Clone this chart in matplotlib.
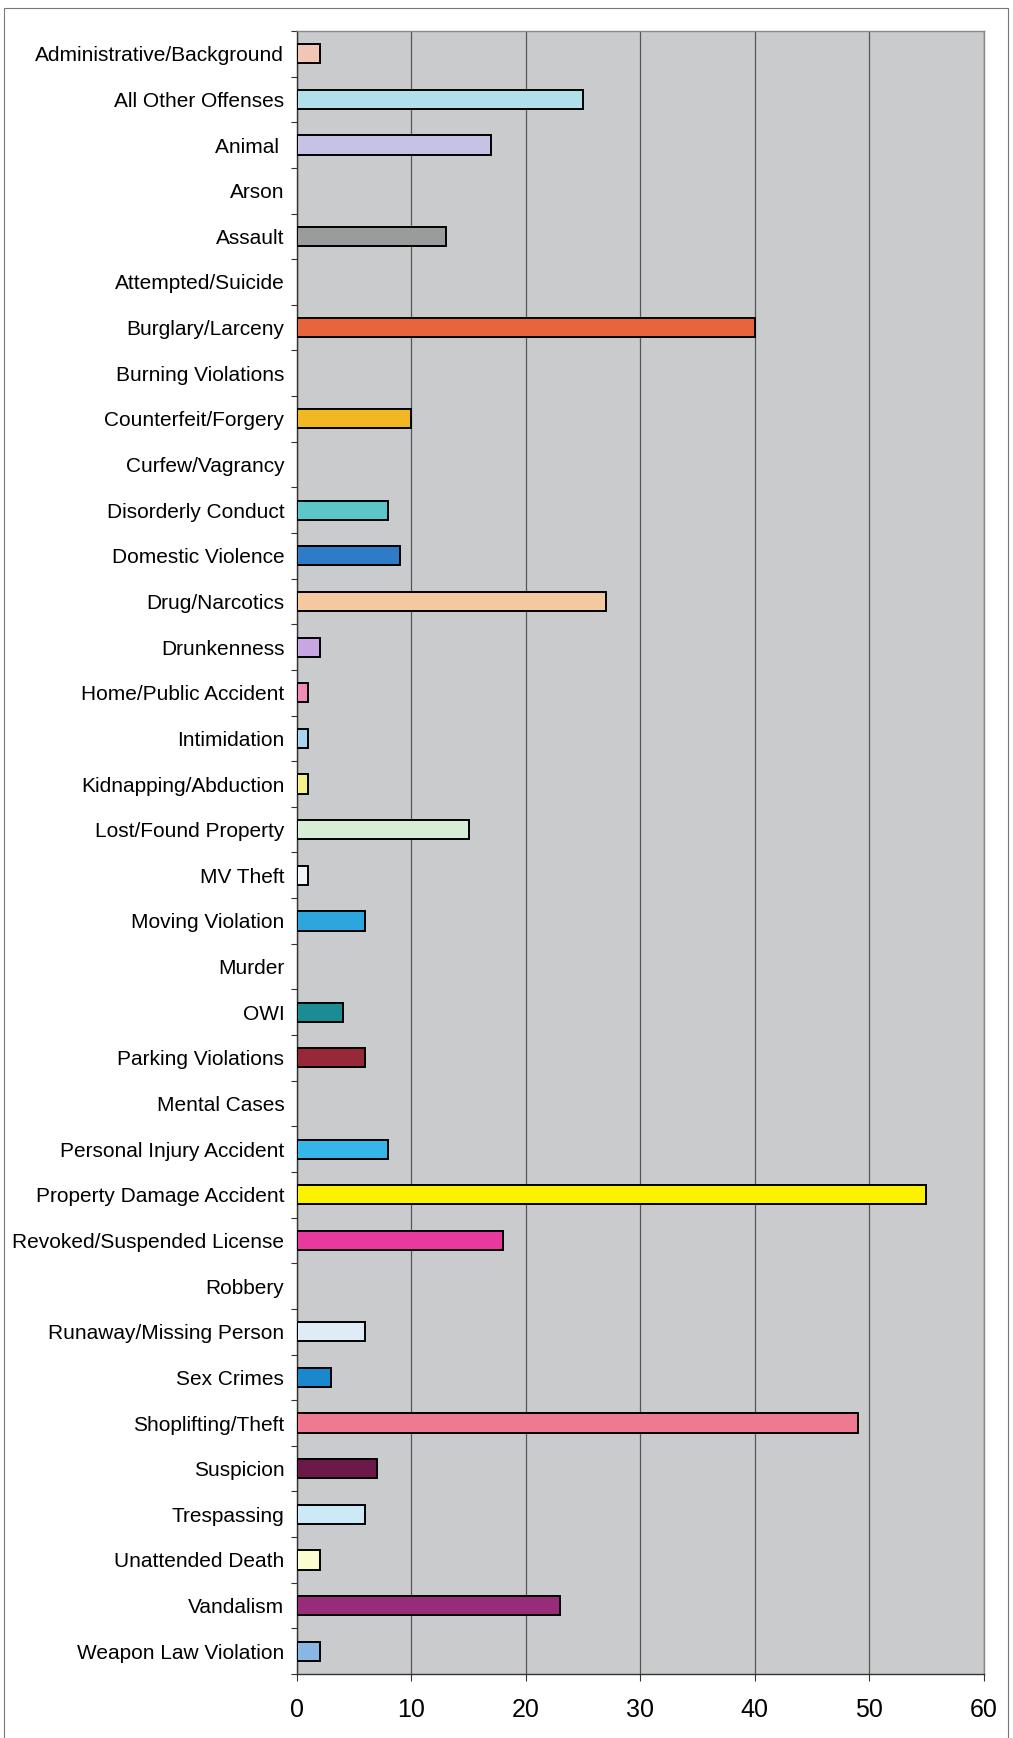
import numpy as np
from matplotlib import pyplot as plt
from matplotlib.patches import Rectangle

plt.rcParams['font.family'] = ['Liberation Sans', 'DejaVu Sans']

categories = [
    "Administrative/Background", "All Other Offenses", "Animal ", "Arson",
    "Assault", "Attempted/Suicide", "Burglary/Larceny", "Burning Violations",
    "Counterfeit/Forgery", "Curfew/Vagrancy", "Disorderly Conduct",
    "Domestic Violence", "Drug/Narcotics", "Drunkenness",
    "Home/Public Accident", "Intimidation", "Kidnapping/Abduction",
    "Lost/Found Property", "MV Theft", "Moving Violation", "Murder", "OWI",
    "Parking Violations", "Mental Cases", "Personal Injury Accident",
    "Property Damage Accident", "Revoked/Suspended License", "Robbery",
    "Runaway/Missing Person", "Sex Crimes", "Shoplifting/Theft", "Suspicion",
    "Trespassing", "Unattended Death", "Vandalism", "Weapon Law Violation",
]

counts = [2, 25, 17, 0, 13, 0, 40, 0, 10, 0, 8, 9, 27, 2, 1, 1, 1, 15, 1, 6,
          0, 4, 6, 0, 8, 55, 18, 0, 6, 3, 49, 7, 6, 2, 23, 2]

bar_colors = [
    "#f2c6b4", "#b2e0ea", "#c6c2e6", "#cacbcc", "#9a9c9c", "#cacbcc",
    "#e8643c", "#cacbcc", "#f2b824", "#cacbcc", "#5cc6ca", "#2e7cc8",
    "#f5c9a0", "#c8a6e2", "#f08ab6", "#a8d4f0", "#f4f08a", "#d6eed6",
    "#eef4fa", "#2ca6dc", "#cacbcc", "#1c8c94", "#962838", "#cacbcc",
    "#36b6e8", "#fcf200", "#e83a9e", "#cacbcc", "#e0ebf8", "#1a88cc",
    "#ee7a92", "#6c1848", "#cde9f8", "#fcfcd2", "#982c78", "#8ab6e4",
]

x_ticks = [0, 10, 20, 30, 40, 50, 60]

fig = plt.figure(figsize=(10.13, 17.38), dpi=100)
ax = fig.add_axes([0.293, 0.0368, 0.678, 0.9454])
ax.set_facecolor("#cacbcc")

y = np.arange(len(categories))
widths = [1.4 if c > 0 else 0 for c in counts]
ax.barh(y, counts, height=0.42, color=bar_colors, edgecolor="black",
        linewidth=widths, zorder=3)

ax.set_xlim(0, 60)
ax.set_ylim(len(categories) - 0.5, -0.5)
ax.set_xticks(x_ticks)
ax.set_xticklabels([str(t) for t in x_ticks], fontsize=18)
ax.set_yticks(y)
ax.set_yticklabels(categories, fontsize=15)
ax.set_yticks(np.arange(len(categories) + 1) - 0.5, minor=True)

# grid
ax.grid(axis="x", color="#555555", linewidth=0.9, zorder=1)
ax.tick_params(axis="y", which="major", length=0, pad=9)
ax.tick_params(axis="y", which="minor", length=4, width=0.8, color="#333333")
ax.tick_params(axis="x", length=5, width=0.8, color="#333333", pad=12)

for side in ["top", "right"]:
    ax.spines[side].set_color("#888888")
    ax.spines[side].set_linewidth(1.0)
for side in ["left", "bottom"]:
    ax.spines[side].set_color("#333333")
    ax.spines[side].set_linewidth(1.0)

# outer frame around chart
fig.patches.append(Rectangle((0.004, -0.01), 0.991, 1 - 8 / 1738 + 0.01,
                             transform=fig.transFigure, fill=False,
                             edgecolor="#777777", linewidth=0.8))

plt.savefig("out.png", dpi=100)
